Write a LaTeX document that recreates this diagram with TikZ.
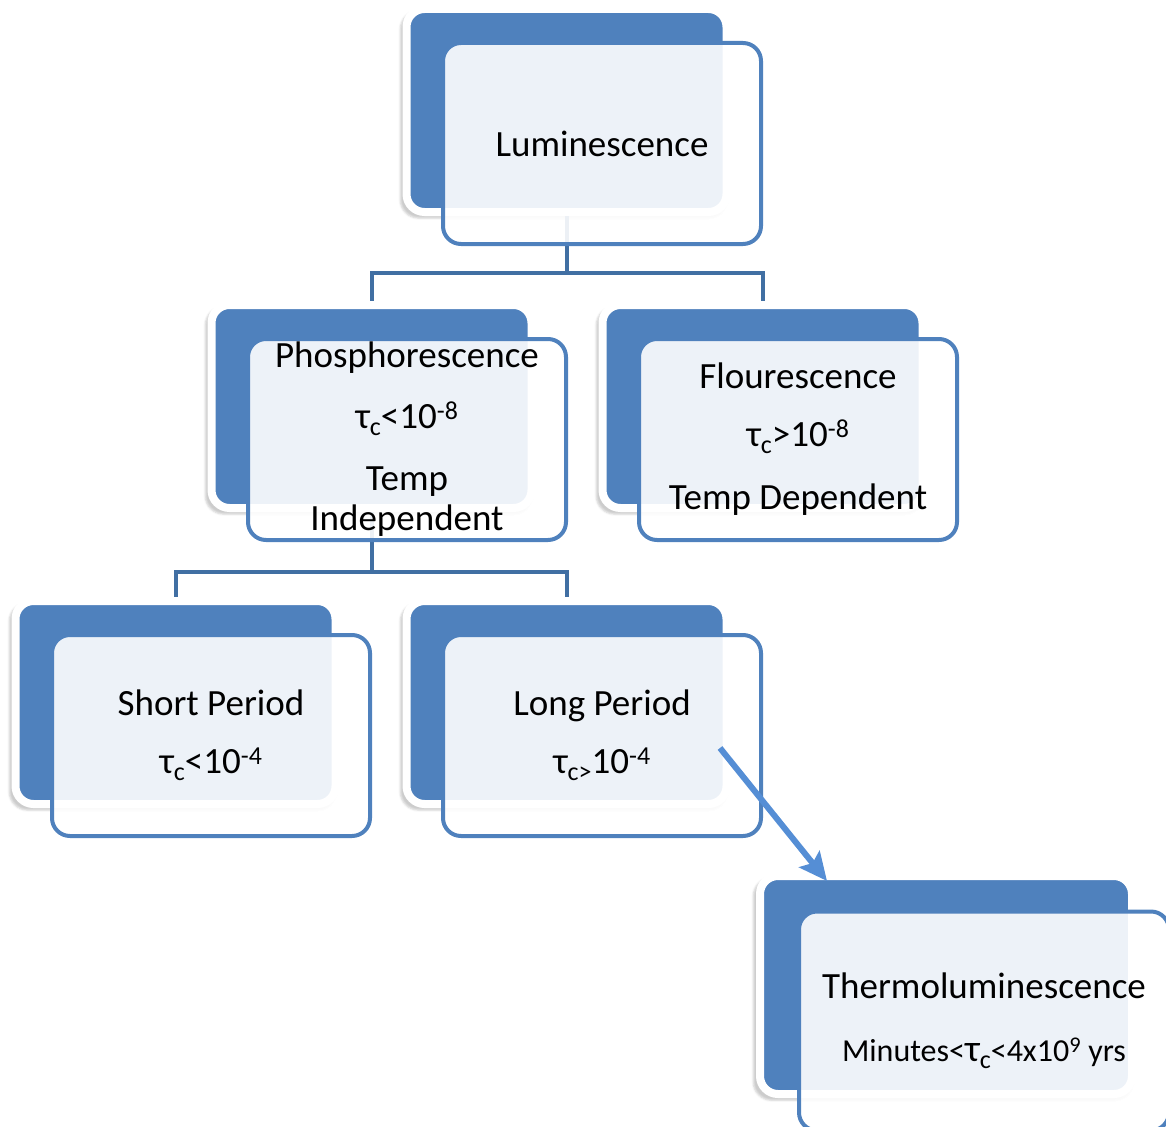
\documentclass[tikz,border=0pt]{standalone}
\usepackage{fontspec}
\setmainfont{Carlito}
\usetikzlibrary{arrows.meta,shadows.blur}
\definecolor{boxblue}{RGB}{79,129,189}
\definecolor{linkblue}{RGB}{65,111,163}
\definecolor{arrowblue}{RGB}{85,142,213}
\tikzset{
	backbox/.style = {rectangle, rounded corners=18pt, fill=boxblue, draw=white, line width=8pt,
		minimum width=320pt, minimum height=203pt,
		blur shadow={shadow xshift=-3pt, shadow yshift=-4pt, shadow scale=1.02, shadow opacity=20}},
	frontbox/.style = {rectangle, rounded corners=18pt, draw=boxblue, line width=4pt,
		fill=white, fill opacity=0.9, text opacity=1, inner sep=0pt,
		minimum width=318pt, minimum height=201pt, align=center,
		font=\fontsize{37}{40}\selectfont},
	link/.style = {draw=linkblue, line width=4pt},
}
\newcommand{\lowsub}[1]{\raisebox{-7pt}{\fontsize{26}{26}\selectfont #1}}
\newcommand{\tauc}{τ\lowsub{c}}

\begin{document}
\begin{tikzpicture}[x=1pt, y=-1pt]
			%\draw [help lines, step=100] (0,0) grid (1166,1126);
			\useasboundingbox (0,0) rectangle (1166,1126);
			% back boxes
			\node [backbox] (lumback) at (566.5,110.5) {};
			\node [backbox] (phosback) at (371.5,406.5) {};
			\node [backbox] (flourback) at (762.5,406.5) {};
			\node [backbox] (shortback) at (175.5,702.5) {};
			\node [backbox] (longback) at (566.5,702.5) {};
			\node [backbox, minimum width=372pt, minimum height=218pt] (thermoback) at (946,985) {};
			% tree lines
			\draw [link] (lumback.south) -- ++(0,57) coordinate (lumfork);
			\draw [link] (lumfork) -| (phosback.north);
			\draw [link] (lumfork) -| (flourback.north);
			\draw [link] (phosback.south) -- ++(0,60) coordinate (phosfork);
			\draw [link] (phosfork) -| (shortback.north);
			\draw [link] (phosfork) -| (longback.north);
			% front boxes
			\node [frontbox] (lumfront) at ([shift={(35.5,33)}]lumback.center) {Luminescence};
			\node [frontbox] (phosfront) at ([shift={(35.5,33)}]phosback.center)
				{Phosphorescence\\[21pt]\tauc<10\textsuperscript{-8}\\[22pt]Temp\\Independent};
			\node [frontbox] (flourfront) at ([shift={(35.5,33)}]flourback.center)
				{Flourescence\\[18pt]\tauc>10\textsuperscript{-8}\\[23pt]Temp Dependent};
			\node [frontbox] (shortfront) at ([shift={(35.5,33)}]shortback.center)
				{Short Period\\[18pt]\tauc<10\textsuperscript{-4}};
			\node [frontbox] (longfront) at ([shift={(35.5,33)}]longback.center)
				{Long Period\\[18pt]τ\lowsub{c>}10\textsuperscript{-4}};
			\node [frontbox, minimum width=370pt, minimum height=219pt] (thermofront) at ([shift={(38,36)}]thermoback.center)
				{Thermoluminescence\\[23pt]{\fontsize{32}{40}\selectfont Minutes<{\fontsize{38}{40}\selectfont τ}\lowsub{c}<4x10\textsuperscript{9} yrs}};
			% arrow
			\coordinate (tlstart) at (720,748);
			\coordinate (tlend) at (827,881);
			\draw [arrowblue, line width=6pt, -{Stealth[length=28pt, width=26pt, inset=5pt]}] (tlstart) -- (tlend);
	\end{tikzpicture}
\end{document}
